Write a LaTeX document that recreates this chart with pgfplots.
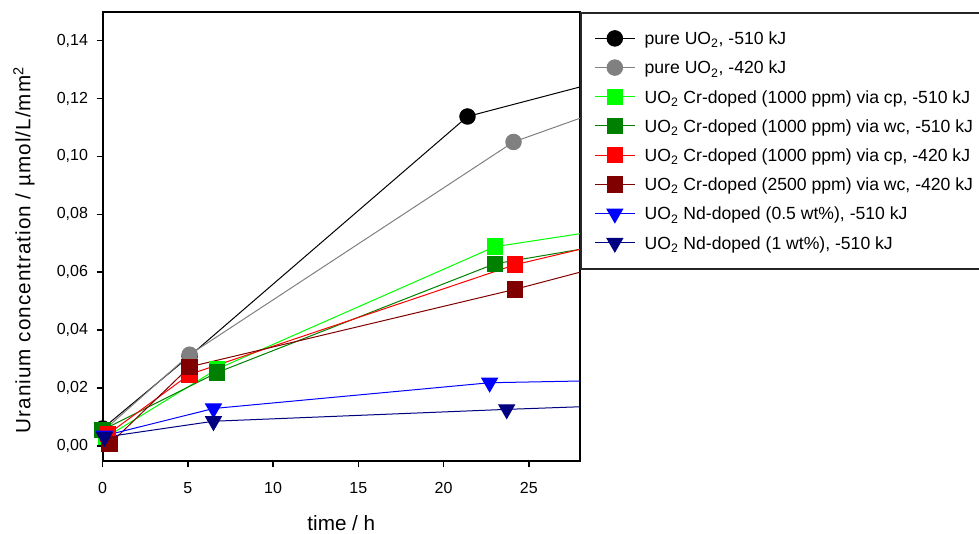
\documentclass[border=0pt]{standalone}
\usepackage{fontspec}
\setmainfont{Liberation Sans}
\newfontfamily\ylabfont[LetterSpace=5]{Liberation Sans}
\usepackage{pgfplots}
\pgfplotsset{compat=1.18}

\definecolor{cgray}{RGB}{128,128,128}
\definecolor{clime}{RGB}{0,255,0}
\definecolor{cdkgreen}{RGB}{0,128,0}
\definecolor{cred}{RGB}{255,0,0}
\definecolor{cdkred}{RGB}{128,0,0}
\definecolor{cblue}{RGB}{0,0,255}
\definecolor{cnavy}{RGB}{0,0,128}

\pgfplotsset{
  dl/.style={line width=0.75pt},
  sBlack/.style={dl, color=black, mark=*, mark size=5.8pt},
  sGray/.style={dl, color=cgray, mark=*, mark size=5.8pt},
  sLime/.style={dl, color=clime, mark=square*, mark size=5.8pt},
  sDkgreen/.style={dl, color=cdkgreen, mark=square*, mark size=5.8pt},
  sRed/.style={dl, color=cred, mark=square*, mark size=5.8pt},
  sDkred/.style={dl, color=cdkred, mark=square*, mark size=5.8pt},
  sBlue/.style={dl, color=cblue, mark=triangle*, mark size=6.8pt, mark options={rotate=180}},
  sNavy/.style={dl, color=cnavy, mark=triangle*, mark size=6.8pt, mark options={rotate=180}},
}

\begin{document}
\begin{tikzpicture}
\begin{axis}[
  width=358pt, height=337.3pt, scale only axis,
  xmin=0, xmax=28, ymin=-0.0054, ymax=0.150,
  xtick={0,5,10,15,20,25},
  ytick={0,0.02,0.04,0.06,0.08,0.10,0.12,0.14},
  scaled y ticks=false,
  /pgf/number format/assume math mode=true,
  yticklabel style={xshift=-3pt, /pgf/number format/.cd, fixed, fixed zerofill, precision=2, use comma},
  xticklabel style={yshift=-7.5pt},
  tick label style={font=\fontsize{12}{14}\selectfont},
  tick pos=left,
  tick align=outside, major tick length=4.5pt,
  every tick/.style={line width=1.2pt, black},
  axis line style={line width=1.5pt},
  every axis x label/.style={at={(axis description cs:0.5,-0.1364)}, anchor=center},
  every axis y label/.style={at={(axis description cs:-0.1648,0.47)}, anchor=center, rotate=90},
  label style={font=\fontsize{15.5}{18}\selectfont},
  xlabel={time / h},
  ylabel={\ylabfont Uranium concentration / µmol/L/mm\textsuperscript{2}},
  legend cell align=left,
  legend image code/.code={
    \draw[#1] (0pt,0pt) -- (30pt,0pt);
    \draw[#1] plot coordinates {(15pt,0pt)};
  },
  legend style={at={(rel axis cs:1,1)}, anchor=north west,
    draw=black!85, line width=1.5pt, fill=white,
    font=\fontsize{13.2}{15}\selectfont,
    inner xsep=10pt, inner ysep=12.5pt, row sep=8.4pt, column sep=7pt,
    nodes={inner sep=0pt, text height=11.5pt, text depth=2pt}},
]
\coordinate (sw) at (rel axis cs:0,0);
\coordinate (ne) at (rel axis cs:1,1);

\addplot[sBlack, mark=none, forget plot] coordinates {(0,0.006) (5.1,0.031) (21.4,0.1138) (28,0.124)};
\addplot[sBlack, only marks] coordinates {(0,0.006) (5.1,0.031) (21.4,0.1138)};
\addlegendentry{pure UO\textsubscript{2}, -510 kJ}

\addplot[sGray, mark=none, forget plot] coordinates {(0,0.005) (5.1,0.0315) (24.1,0.105) (28,0.1132)};
\addplot[sGray, only marks] coordinates {(0,0.005) (5.1,0.0315) (24.1,0.105)};
\addlegendentry{pure UO\textsubscript{2}, -420 kJ}

\addplot[sLime, mark=none, forget plot] coordinates {(0.2,0.003) (6.7,0.0265) (23,0.0688) (28,0.0733)};
\addplot[sLime, only marks] coordinates {(0.2,0.003) (6.7,0.0265) (23,0.0688)};
\addlegendentry{UO\textsubscript{2} Cr-doped (1000 ppm) via cp, -510 kJ}

\addplot[sDkgreen, mark=none, forget plot] coordinates {(0,0.0055) (6.7,0.0253) (23,0.0629) (28,0.0679)};
\addplot[sDkgreen, only marks] coordinates {(0,0.0055) (6.7,0.0253) (23,0.0629)};
\addlegendentry{UO\textsubscript{2} Cr-doped (1000 ppm) via wc, -510 kJ}

\addplot[sRed, mark=none, forget plot] coordinates {(0.3,0.004) (5.1,0.0247) (24.2,0.0626) (28,0.0679)};
\addplot[sRed, only marks] coordinates {(0.3,0.004) (5.1,0.0247) (24.2,0.0626)};
\addlegendentry{UO\textsubscript{2} Cr-doped (1000 ppm) via cp, -420 kJ}

\addplot[sDkred, mark=none, forget plot] coordinates {(0.4,0.0006) (5.1,0.0273) (24.2,0.0541) (28,0.060)};
\addplot[sDkred, only marks] coordinates {(0.4,0.0006) (5.1,0.0273) (24.2,0.0541)};
\addlegendentry{UO\textsubscript{2} Cr-doped (2500 ppm) via wc, -420 kJ}

\addplot[sBlue, mark=none, forget plot] coordinates {(0.1,0.0035) (6.5,0.0129) (22.7,0.0218) (28,0.0224)};
\addplot[sBlue, only marks] coordinates {(0.1,0.0035) (6.5,0.0129) (22.7,0.0218)};
\addlegendentry{UO\textsubscript{2} Nd-doped (0.5 wt\%), -510 kJ}

\addplot[sNavy, mark=none, forget plot] coordinates {(0.1,0.003) (6.5,0.0085) (23.7,0.0126) (28,0.0135)};
\addplot[sNavy, only marks] coordinates {(0.1,0.003) (6.5,0.0085) (23.7,0.0126)};
\addlegendentry{UO\textsubscript{2} Nd-doped (1 wt\%), -510 kJ}
\end{axis}
\pgfresetboundingbox
\path ([xshift=-77pt,yshift=-54.4pt]sw) rectangle ([xshift=299.25pt,yshift=8.8pt]ne);
\end{tikzpicture}
\end{document}
